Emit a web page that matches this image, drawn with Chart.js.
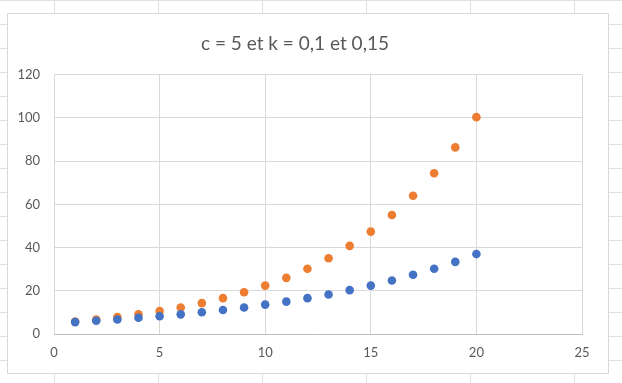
<!DOCTYPE html>
<html>
<head>
<meta charset="utf-8">
<script src="https://cdn.jsdelivr.net/npm/chart.js@4"></script>
<style>
  html, body { margin: 0; padding: 0; width: 622px; height: 383px; overflow: hidden; }
  body {
    background-color: #fff;
    background-image:
      linear-gradient(to right, #e0e0e0 0, #e0e0e0 1px, transparent 1px),
      linear-gradient(to bottom, #e0e0e0 0, #e0e0e0 1px, transparent 1px);
    background-size: 104px 100%, 100% 24px;
    background-position: 54px 0, 0 0;
  }
  #box {
    position: absolute; left: 7px; top: 13px; width: 600px; height: 359px;
    background: #fff; border: 1px solid #d9d9d9;
  }
  #box canvas { display: block; }
</style>
</head>
<body>
<div id="box"><canvas id="chart" width="600" height="359"></canvas></div>
<script>
// x values and the two series (c = 5, k = 0,1 and k = 0,15)
const xValues = [1, 2, 3, 4, 5, 6, 7, 8, 9, 10, 11, 12, 13, 14, 15, 16, 17, 18, 19, 20];
const seriesK010 = [5.5, 6.1, 6.7, 7.5, 8.2, 9.1, 10.1, 11.1, 12.3, 13.6,
                    15.0, 16.6, 18.3, 20.3, 22.4, 24.8, 27.4, 30.2, 33.4, 37.0];
const seriesK015 = [5.8, 6.7, 7.8, 9.1, 10.6, 12.3, 14.3, 16.6, 19.3, 22.4,
                    26.0, 30.2, 35.1, 40.8, 47.4, 55.1, 64.0, 74.4, 86.4, 100.4];
const xTicks = [0, 5, 10, 15, 20, 25];
const yTicks = [0, 20, 40, 60, 80, 100, 120];
const titleText = "c = 5 et k = 0,1 et 0,15";

const font = "Lato, 'Open Sans', sans-serif";
const toPoints = ys => xValues.map((x, i) => ({ x, y: ys[i] }));

new Chart(document.getElementById("chart"), {
  type: "scatter",
  data: {
    datasets: [
      {
        label: "k = 0,1",
        data: toPoints(seriesK010),
        backgroundColor: "#4472C4",
        borderColor: "#4472C4",
        pointRadius: 4.3,
        borderWidth: 0
      },
      {
        label: "k = 0,15",
        data: toPoints(seriesK015),
        backgroundColor: "#ED7D31",
        borderColor: "#ED7D31",
        pointRadius: 4.3,
        borderWidth: 0
      }
    ]
  },
  options: {
    responsive: false,
    animation: false,
    layout: { padding: { left: 0, right: 26, top: 0, bottom: 0 } },
    plugins: {
      legend: { display: false },
      tooltip: { enabled: false },
      title: {
        display: true,
        text: titleText,
        color: "#595959",
        font: { family: font, size: 19, weight: "normal" },
        padding: { top: 18, bottom: 20 }
      }
    },
    scales: {
      x: {
        type: "linear",
        min: xTicks[0],
        max: xTicks[xTicks.length - 1],
        afterBuildTicks: s => { s.ticks = xTicks.map(v => ({ value: v })); },
        afterFit: s => { s.height = 39; },
        grid: { color: "#d9d9d9", drawTicks: false },
        border: { display: true, color: "#bfbfbf" },
        ticks: { color: "#595959", font: { family: font, size: 13 }, padding: 11 }
      },
      y: {
        type: "linear",
        min: yTicks[0],
        max: yTicks[yTicks.length - 1],
        afterBuildTicks: s => { s.ticks = yTicks.map(v => ({ value: v })); },
        afterFit: s => { s.width = 46; },
        grid: { color: "#d9d9d9", drawTicks: false },
        border: { display: false },
        ticks: { color: "#595959", font: { family: font, size: 13 }, padding: 14 }
      }
    }
  }
});
</script>
</body>
</html>
